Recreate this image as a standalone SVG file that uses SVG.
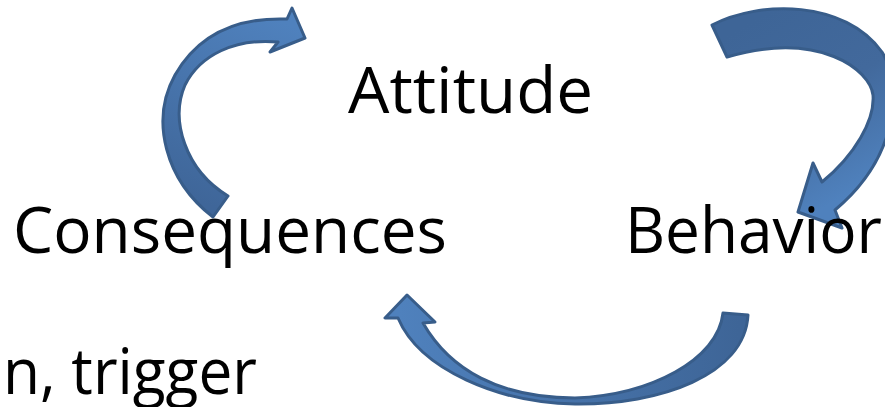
<svg xmlns="http://www.w3.org/2000/svg" width="885" height="407" viewBox="0 0 885 407">
<style>
.lbl{font-family:"Open Sans","Liberation Sans",sans-serif;font-size:64px;fill:#000}
.arr{stroke:#385d8a;stroke-width:3;stroke-linejoin:round}
</style>
<defs>
<linearGradient id="g1" gradientUnits="userSpaceOnUse" x1="220" y1="210" x2="300" y2="30">
<stop offset="0" stop-color="#3f6699"/><stop offset="1" stop-color="#4f81bd"/>
</linearGradient>
<linearGradient id="g2" gradientUnits="userSpaceOnUse" x1="720" y1="40" x2="820" y2="210">
<stop offset="0" stop-color="#3e6597"/><stop offset="0.5" stop-color="#42699c"/><stop offset="1" stop-color="#4f81bd"/>
</linearGradient>
<linearGradient id="g3" gradientUnits="userSpaceOnUse" x1="740" y1="320" x2="400" y2="300">
<stop offset="0" stop-color="#3e6597"/><stop offset="1" stop-color="#4f81bd"/>
</linearGradient>
</defs>
<rect width="885" height="407" fill="#fff"/>
<g id="connectors">
<path id="arrow-consequences-attitude" class="arr" fill="url(#g1)" d="M 213,217 C 165,180 150,120 175,75 C 195,40 230,17 287,19 L 292,8 L 305,38 L 270,52 L 278,42 C 235,38 200,55 185,85 C 170,120 185,170 228,196 Z"/>
<path id="arrow-attitude-behavior" class="arr" fill="url(#g2)" d="M 712,25 C 760,0 845,0 882,52 C 905,90 895,160 835,210 L 842,228 L 798,212 L 813,163 L 822,182 C 855,155 875,120 873,95 C 870,70 820,30 727,57 Z"/>
<path id="arrow-behavior-consequences" class="arr" fill="url(#g3)" d="M 398,318 C 420,370 500,403 575,404 C 660,405 745,375 748,315 L 723,313 C 718,360 650,395 575,398 C 500,398 450,370 423,323 L 435,322 L 407,295 L 385,318 Z"/>
</g>
<g id="node-attitude"><text class="lbl" x="348" y="113" textLength="245" lengthAdjust="spacingAndGlyphs">Attitude</text></g>
<g id="node-consequences"><text class="lbl" x="13" y="253" textLength="434" lengthAdjust="spacingAndGlyphs">Consequences</text></g>
<g id="node-behavior"><text class="lbl" x="625" y="253" textLength="257" lengthAdjust="spacingAndGlyphs">Behavior</text></g>
<g id="node-trigger"><text class="lbl" x="3" y="394" textLength="254" lengthAdjust="spacingAndGlyphs">n, trigger</text></g>
</svg>
